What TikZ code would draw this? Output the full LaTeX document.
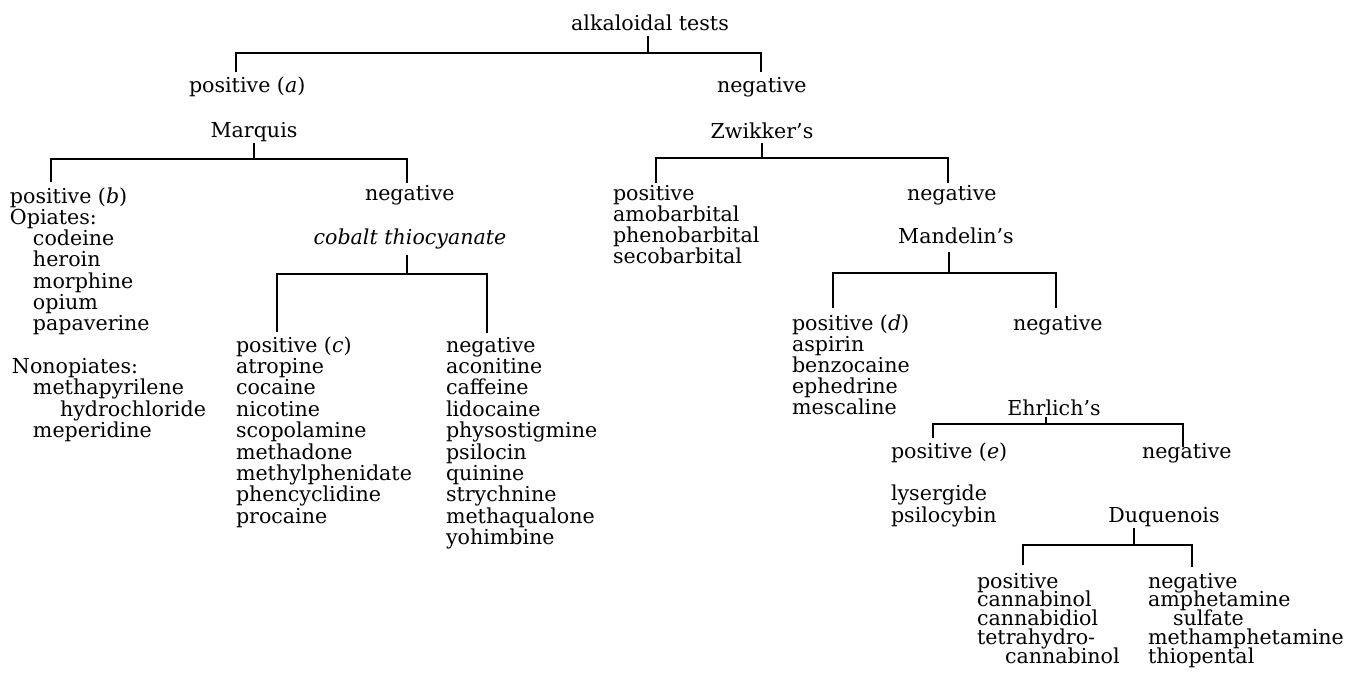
\documentclass[tikz,border=0pt]{standalone}
\usepackage{fontspec}
\setmainfont{DejaVu Serif}
\newcommand\vlist[2]{\vtop{\baselineskip=#1\lineskiplimit=-50pt\lineskip=0pt\halign{##\hfil\cr#2\crcr}}}
\tikzset{
  lab/.style={inner sep=0pt,outer sep=0pt,text depth=0pt,font=\fontsize{10.3}{10.65}\selectfont},
  lst/.style={lab,anchor=base west},
  ctr/.style={lab,anchor=base},
  br/.style={line width=0.75pt}
}
\begin{document}
\begin{tikzpicture}[x=0.5pt,y=-0.5pt]
\useasboundingbox (0,0) rectangle (1350,677);
% level 0
\node[ctr] (alk) at (650,30) {alkaloidal tests};
\node[lst] (pa) at (189,92) {positive (\textit{a})};
\node[lst] (na) at (717,92) {negative};
% Marquis branch
\node[ctr] (mq) at (254,137) {Marquis};
\node[lst] (pb) at (10,203) {\vlist{10.65pt}{positive (\textit{b})\cr
Opiates:\cr
\hspace*{11.5pt}codeine\cr
\hspace*{11.5pt}heroin\cr
\hspace*{11.5pt}morphine\cr
\hspace*{11.5pt}opium\cr
\hspace*{11.5pt}papaverine\cr
\cr
\hspace*{1pt}Nonopiates:\cr
\hspace*{11.5pt}methapyrilene\cr
\hspace*{25pt}hydrochloride\cr
\hspace*{11.5pt}meperidine}};
\node[lst] (nb) at (365,200) {negative};
\node[ctr] (co) at (410,244) {\textit{cobalt thiocyanate}};
\node[lst] (pc) at (236,352) {\vlist{10.7pt}{positive (\textit{c})\cr
atropine\cr cocaine\cr nicotine\cr scopolamine\cr methadone\cr
methylphenidate\cr phencyclidine\cr procaine}};
\node[lst] (nc) at (446,352) {\vlist{10.7pt}{negative\cr
aconitine\cr caffeine\cr lidocaine\cr physostigmine\cr psilocin\cr
quinine\cr strychnine\cr methaqualone\cr yohimbine}};
% Zwikker branch
\node[ctr] (zw) at (762,138) {Zwikker’s};
\node[lst] (pz) at (613,200) {\vlist{10.65pt}{positive\cr amobarbital\cr phenobarbital\cr secobarbital}};
\node[lst] (nz) at (907,200) {negative};
\node[ctr] (md) at (956,243) {Mandelin’s};
\node[lst] (pd) at (792,330) {\vlist{10.5pt}{positive (\textit{d})\cr aspirin\cr benzocaine\cr ephedrine\cr mescaline}};
\node[lst] (nd) at (1013,330) {negative};
\node[ctr] (eh) at (1054,415) {Ehrlich’s};
\node[lst] (pe) at (891,458) {positive (\textit{e})};
\node[lst] (le) at (891,500) {\vlist{11pt}{lysergide\cr psilocybin}};
\node[lst] (ne) at (1142,458) {negative};
\node[ctr] (dq) at (1164,522) {Duquenois};
\node[lst] (pf) at (977,588) {\vlist{9.4pt}{positive\cr cannabinol\cr cannabidiol\cr tetrahydro-\cr \hspace*{14pt}cannabinol}};
\node[lst] (nf) at (1148,588) {\vlist{9.4pt}{negative\cr amphetamine\cr \hspace*{12.5pt}sulfate\cr methamphetamine\cr thiopental}};
% bracket ends
\coordinate (alkL) at (236,72);  \coordinate (alkR) at (761,72);
\coordinate (mqL) at (51,182);   \coordinate (mqR) at (407,183);
\coordinate (coL) at (277,332);  \coordinate (coR) at (487,333);
\coordinate (zwL) at (656,183);  \coordinate (zwR) at (948,183);
\coordinate (mdL) at (833,308);  \coordinate (mdR) at (1056,308);
\coordinate (ehL) at (933,438);  \coordinate (ehR) at (1183,447);
\coordinate (dqL) at (1023,565); \coordinate (dqR) at (1192,567);
% brackets
\draw[br] ([xshift=-1pt,yshift=-3pt]alk.south) -- ++(0,17) coordinate (alkJ);
\draw[br] (alkL) |- (alkJ) -| (alkR);
\draw[br] ([yshift=-3pt]mq.south) -- ++(0,16) coordinate (mqJ);
\draw[br] (mqL) |- (mqJ) -| (mqR);
\draw[br] ([xshift=-1.5pt,yshift=-5.5pt]co.south) -- ++(0,19) coordinate (coJ);
\draw[br] (coL) |- (coJ) -| (coR);
\draw[br] ([yshift=-2.5pt]zw.south) -- ++(0,15) coordinate (zwJ);
\draw[br] (zwL) |- (zwJ) -| (zwR);
\draw[br] ([xshift=-3.5pt,yshift=-4.5pt]md.south) -- ++(0,21) coordinate (mdJ);
\draw[br] (mdL) |- (mdJ) -| (mdR);
\draw[br] ([xshift=-4pt,yshift=-1pt]eh.south) -- ++(0,7) coordinate (ehJ);
\draw[br] (ehL) |- (ehJ) -| (ehR);
\draw[br] ([xshift=-15pt,yshift=-3pt]dq.south) -- ++(0,17) coordinate (dqJ);
\draw[br] (dqL) |- (dqJ) -| (dqR);
\end{tikzpicture}
\end{document}
